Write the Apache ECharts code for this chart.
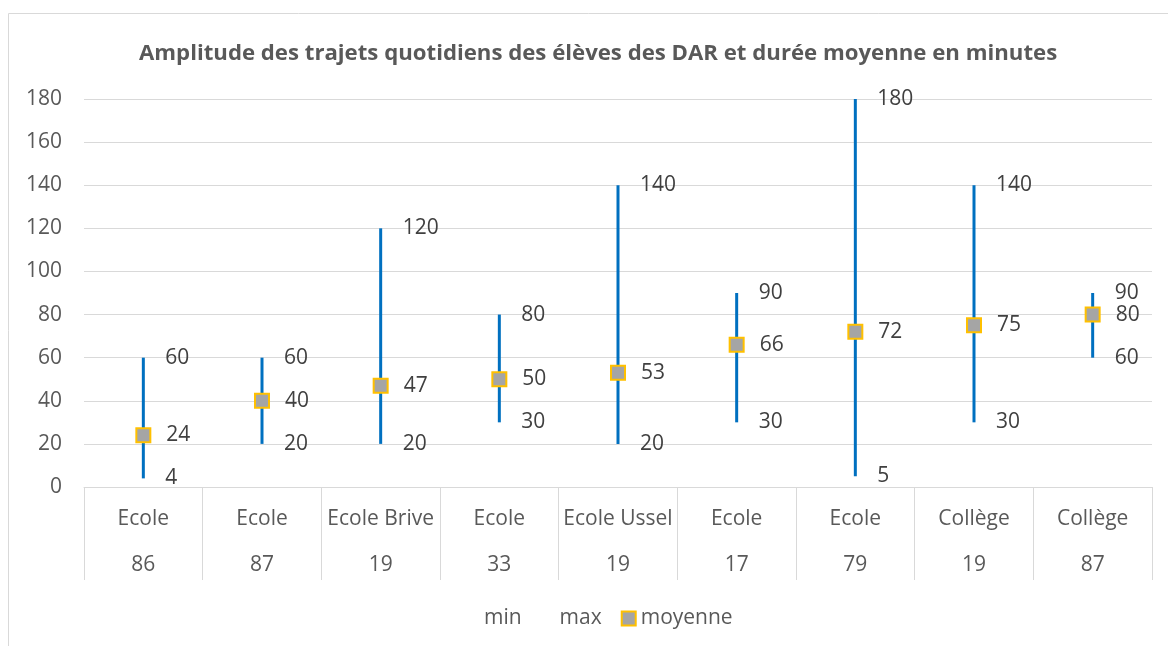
<html>
<head>
    <meta charset="utf-8">
    <title>Amplitude des trajets</title>
    <script src="https://cdn.jsdelivr.net/npm/echarts@6/dist/echarts.min.js"></script>
    <style>
        html, body { margin: 0; padding: 0; background: #fff; }
    </style>
</head>
<body>
<div id="chart" style="width: 1168px; height: 646px;"></div>
<script type="text/javascript">
    // etablissement (ligne 1) et departement (ligne 2)
    var etabs = ['Ecole', 'Ecole', 'Ecole Brive', 'Ecole', 'Ecole Ussel', 'Ecole', 'Ecole', 'Collège', 'Collège'];
    var depts = ['86', '87', '19', '33', '19', '17', '79', '19', '87'];
    var minVals = [4, 20, 20, 30, 20, 30, 5, 30, 60];
    var maxVals = [60, 60, 120, 80, 140, 90, 180, 140, 90];
    var moyVals = [24, 40, 47, 50, 53, 66, 72, 75, 80];

    var font = 'Open Sans';
    var fs = 21;
    var categories = etabs.map(function (e, i) { return e + '\n' + depts[i]; });
    var hiLo = categories.map(function (c, i) { return [i, minVals[i], maxVals[i]]; });

    var myChart = echarts.init(document.getElementById('chart'));

    var option = {
        animation: false,
        textStyle: { fontFamily: font },
        graphic: [{
            type: 'rect',
            shape: { x: 8.5, y: 13.5, width: 1300, height: 800 },
            style: { fill: 'none', stroke: '#d9d9d9', lineWidth: 1 },
            silent: true
        }],
        title: {
            text: 'Amplitude des trajets quotidiens des élèves des DAR et durée moyenne en minutes',
            left: 134,
            top: 38,
            textStyle: { fontFamily: font, fontSize: 22.2, fontWeight: 'bold', color: '#595959' }
        },
        legend: {
            bottom: 12,
            left: 460,
            itemGap: 19,
            itemWidth: 14,
            itemHeight: 14,
            textStyle: { fontFamily: font, fontSize: fs, color: '#595959' },
            data: [
                { name: 'min', icon: 'rect', itemStyle: { color: 'transparent', borderWidth: 0 } },
                { name: 'max', icon: 'rect', itemStyle: { color: 'transparent', borderWidth: 0 } },
                { name: 'moyenne', icon: 'rect', itemStyle: { color: '#a5a5a5', borderColor: '#ffc000', borderWidth: 2 } }
            ]
        },
        grid: { left: 84, right: 16, top: 99, bottom: 159 },
        xAxis: {
            type: 'category',
            data: categories,
            axisLine: { lineStyle: { color: '#d9d9d9', width: 1 } },
            axisTick: { show: true, interval: 0, length: 93, lineStyle: { color: '#d9d9d9', width: 1 } },
            axisLabel: {
                interval: 0,
                margin: 9,
                lineHeight: 46,
                fontSize: fs,
                color: '#595959',
                fontFamily: font
            }
        },
        yAxis: {
            type: 'value',
            min: 0,
            max: 180,
            interval: 20,
            axisLine: { show: false },
            axisTick: { show: false },
            axisLabel: { margin: 22, fontSize: fs, color: '#595959', fontFamily: font },
            splitLine: { lineStyle: { color: '#d9d9d9', width: 1 } }
        },
        series: [
            {
                name: 'hilo',
                type: 'custom',
                data: hiLo,
                z: 1,
                renderItem: function (params, api) {
                    var p1 = api.coord([api.value(0), api.value(1)]);
                    var p2 = api.coord([api.value(0), api.value(2)]);
                    return {
                        type: 'line',
                        shape: { x1: p1[0], y1: p1[1], x2: p2[0], y2: p2[1] },
                        style: { stroke: '#0070c0', lineWidth: 3 }
                    };
                }
            },
            {
                name: 'min',
                type: 'line',
                data: minVals,
                symbol: 'circle',
                symbolSize: 0,
                lineStyle: { opacity: 0 },
                itemStyle: { color: 'transparent' },
                label: { show: true, position: 'right', distance: 22, fontSize: fs, color: '#404040', fontFamily: font },
                z: 2
            },
            {
                name: 'max',
                type: 'line',
                data: maxVals,
                symbol: 'circle',
                symbolSize: 0,
                lineStyle: { opacity: 0 },
                itemStyle: { color: 'transparent' },
                label: { show: true, position: 'right', distance: 22, fontSize: fs, color: '#404040', fontFamily: font },
                z: 2
            },
            {
                name: 'moyenne',
                type: 'scatter',
                data: moyVals,
                symbol: 'rect',
                symbolSize: 14,
                itemStyle: { color: '#a5a5a5', borderColor: '#ffc000', borderWidth: 2, opacity: 1 },
                label: { show: true, position: 'right', distance: 15, fontSize: fs, color: '#404040', fontFamily: font },
                z: 3
            }
        ]
    };

    myChart.setOption(option);
</script>
</body>
</html>
